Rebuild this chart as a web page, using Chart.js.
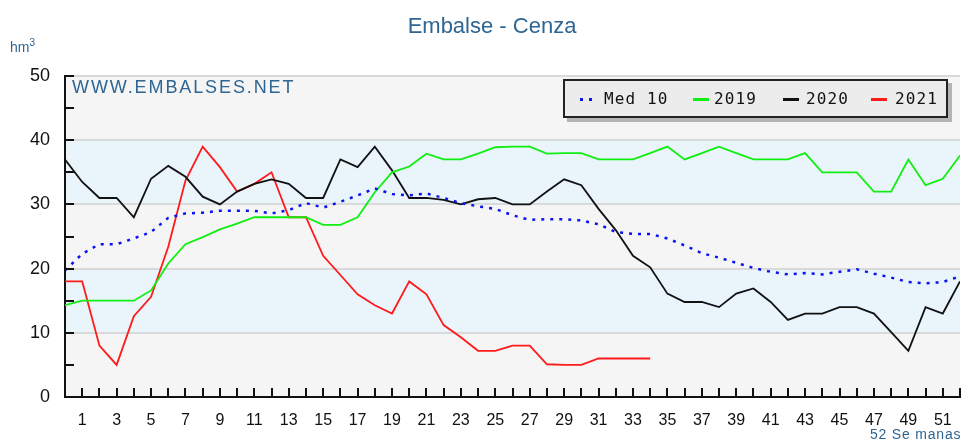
<!DOCTYPE html>
<html>
<head>
<meta charset="utf-8">
<script src="https://cdn.jsdelivr.net/npm/chart.js@4.4.0/dist/chart.umd.min.js"></script>
<style>
  body { margin: 0; background: #fff; }
  #wrap { position: relative; width: 962px; height: 440px; font-family: Arial, "Liberation Sans", sans-serif; }
  #chart { position: absolute; left: 0; top: 0; }
  .txt { position: absolute; color: #2f6592; white-space: nowrap; }
  #title { left: 0; width: 984px; top: 13px; text-align: center; font-size: 22px; }
  #unit { left: 10px; top: 37px; font-size: 14px; }
  #unit sup { font-size: 10px; }
  #web { left: 72px; top: 77px; font-size: 18px; letter-spacing: 1.9px; }
  #weeks { left: 870px; top: 426px; font-size: 14px; letter-spacing: 0.8px; }
  #legend { position: absolute; left: 563px; top: 79px; width: 381px; height: 35px; background: #ececec;
            border: 2px solid #222; box-shadow: 4px 4px 0 #b4b4b4; font-family: "DejaVu Sans Mono", monospace;
            font-size: 16px; letter-spacing: 1.1px; color: #111; }
  .item { position: absolute; top: 8px; }
  .sw { position: absolute; height: 3px; width: 16px; }
</style>
</head>
<body>
<div id="wrap">
  <canvas id="chart" width="962" height="440"></canvas>
  <div class="txt" id="title">Embalse - Cenza</div>
  <div class="txt" id="unit">hm<sup>3</sup></div>
  <div class="txt" id="web">WWW.EMBALSES.NET</div>
  <div class="txt" id="weeks">52 Se manas</div>
  <div id="legend"></div>
</div>
<script>
// weeks 0..52
var weeks = [];
for (let i = 0; i <= 52; i++) weeks.push(i);

var med10 = [19.7, 22.3, 23.8, 23.8, 24.7, 25.7, 27.9, 28.6, 28.7, 29, 29, 29, 28.6, 29.1, 30.2, 29.5, 30.4, 31.4,
  32.5, 31.6, 31.4, 31.7, 31, 30.2, 29.7, 29.3, 28.3, 27.6, 27.7, 27.7, 27.5, 26.9, 25.7, 25.4, 25.4, 24.7,
  23.6, 22.4, 21.7, 20.9, 20.1, 19.5, 19.1, 19.3, 19.1, 19.5, 19.9, 19.2, 18.6, 17.9, 17.7, 17.9, 18.8];
var y2019 = [14.3, 15, 15, 15, 15, 16.6, 20.8, 23.8, 24.9, 26.1, 27, 28, 28, 28, 28, 26.8, 26.8, 28,
  31.9, 35, 35.9, 37.9, 37, 37, 37.9, 38.9, 39, 39, 37.9, 38, 38, 37, 37, 37, 38, 39,
  37, 38, 39, 38, 37, 37, 37, 38, 35, 35, 35, 32, 32, 37, 33, 34, 37.6];
var y2020 = [37, 33.5, 31, 31, 28, 34, 36, 34.3, 31.2, 30, 32, 33.2, 33.9, 33.2, 31, 31, 37, 35.8,
  39, 35.3, 31, 31, 30.7, 30, 30.8, 31, 30, 30, 32, 33.9, 33, 29.3, 26, 22, 20.2, 16.1,
  14.8, 14.8, 14, 16.1, 16.9, 14.8, 12, 13, 13, 14, 14, 13, 10.1, 7.2, 14, 13, 18];
var y2021 = [18, 18, 8, 5, 12.6, 15.6, 23.4, 33.7, 39, 35.8, 32, 33.2, 35, 28, 28, 22, 19, 16,
  14.3, 13, 18, 16, 11.2, 9.3, 7.2, 7.2, 8, 8, 5.1, 5, 5, 6, 6, 6, 6];

var seriesNames = ['Med 10', '2019', '2020', '2021'];
var seriesColors = ['#0a14f0', '#11ee11', '#111111', '#ff1a1a'];
var yTicks = [0, 10, 20, 30, 40, 50];

function pts(arr) {
  return arr.map(function (v, i) { return { x: weeks[i], y: v }; });
}

var bandsPlugin = {
  id: 'bands',
  beforeDraw: function (c) {
    var a = c.chartArea, y = c.scales.y, g = c.ctx;
    g.save();
    g.fillStyle = '#f5f5f5';
    g.fillRect(a.left, a.top, a.right - a.left, a.bottom - a.top);
    g.fillStyle = '#e9f4fb';
    [[10, 20], [30, 40]].forEach(function (b) {
      var t = y.getPixelForValue(b[1]), bt = y.getPixelForValue(b[0]);
      g.fillRect(a.left, t, a.right - a.left, bt - t);
    });
    g.restore();
  }
};

var innerTicks = {
  id: 'innerTicks',
  afterDraw: function (c) {
    var a = c.chartArea, x = c.scales.x, y = c.scales.y, g = c.ctx;
    g.save();
    g.strokeStyle = '#111';
    g.lineWidth = 2;
    g.beginPath();
    weeks.forEach(function (w) {
      var px = Math.round(x.getPixelForValue(w));
      g.moveTo(px, a.bottom);
      g.lineTo(px, a.bottom - 9);
    });
    for (let v = 5; v < 50; v += 5) {
      var py = Math.round(y.getPixelForValue(v));
      g.moveTo(a.left, py);
      g.lineTo(a.left + 9, py);
    }
    g.moveTo(a.left, a.top);
    g.lineTo(a.left + 9, a.top);
    g.stroke();
    g.restore();
  }
};

var chart = new Chart(document.getElementById('chart').getContext('2d'), {
  type: 'line',
  data: {
    datasets: [
      { label: seriesNames[0], data: pts(med10), borderColor: seriesColors[0], borderWidth: 2.5, borderDash: [3, 6], pointRadius: 0, tension: 0 },
      { label: seriesNames[1], data: pts(y2019), borderColor: seriesColors[1], borderWidth: 1.8, pointRadius: 0, tension: 0 },
      { label: seriesNames[2], data: pts(y2020), borderColor: seriesColors[2], borderWidth: 1.8, pointRadius: 0, tension: 0 },
      { label: seriesNames[3], data: pts(y2021), borderColor: seriesColors[3], borderWidth: 1.8, pointRadius: 0, tension: 0 }
    ]
  },
  options: {
    responsive: false,
    animation: false,
    layout: { padding: { top: 76, right: 2, left: 0, bottom: 0 } },
    plugins: { legend: { display: false }, tooltip: { enabled: false } },
    scales: {
      x: {
        type: 'linear', min: 0, max: 52,
        afterFit: function (s) { s.height = 43; s.paddingRight = 0; s.paddingLeft = 0; },
        border: { color: '#111', width: 2 },
        grid: { display: false, drawTicks: false },
        ticks: {
          stepSize: 1, autoSkip: false, maxRotation: 0, padding: 14, color: '#111',
          font: { family: '"Liberation Sans Narrow", Arial', size: 16 },
          callback: function (v) { return v % 2 === 1 ? String(v) : ''; }
        }
      },
      y: {
        min: 0, max: 50,
        afterFit: function (s) { s.width = 65; s.paddingTop = 0; s.paddingBottom = 0; },
        border: { color: '#111', width: 2 },
        grid: { color: '#d9d9d9', lineWidth: 2, drawTicks: false },
        afterBuildTicks: function (s) { s.ticks = yTicks.map(function (v) { return { value: v }; }); },
        ticks: {
          padding: 15, color: '#111',
          font: { family: 'Arial, "Liberation Sans"', size: 18 }
        }
      }
    }
  },
  plugins: [bandsPlugin, innerTicks]
});

// legend built from the chart's datasets
var lg = document.getElementById('legend');
var pos = [[15, 39], [128, 149], [218, 241], [306, 330]];
chart.data.datasets.forEach(function (ds, i) {
  var sw = document.createElement('div');
  sw.className = 'sw';
  sw.style.left = pos[i][0] + 'px';
  sw.style.top = '17px';
  if (i === 0) {
    sw.style.background = 'repeating-linear-gradient(90deg,' + ds.borderColor + ' 0 3px, transparent 3px 9px)';
  } else {
    sw.style.background = ds.borderColor;
  }
  lg.appendChild(sw);
  var t = document.createElement('div');
  t.className = 'item';
  t.style.left = pos[i][1] + 'px';
  t.textContent = ds.label;
  lg.appendChild(t);
});
</script>
</body>
</html>
